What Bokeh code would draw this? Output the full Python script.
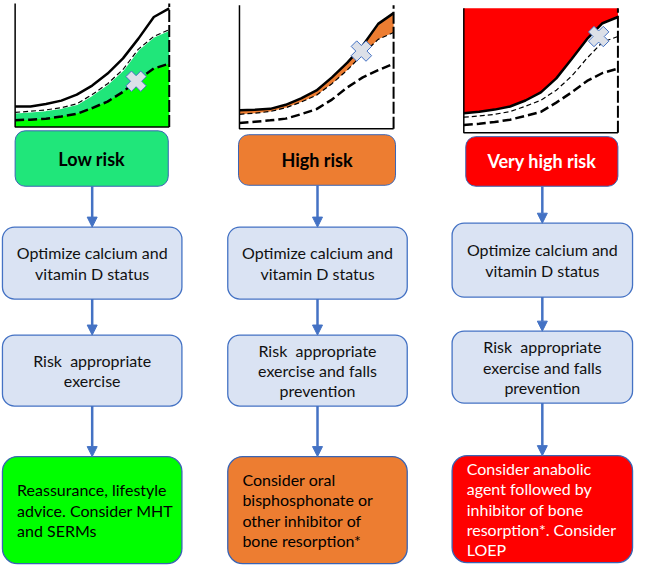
from bokeh.plotting import figure
from bokeh.models import Range1d, Arrow, NormalHead
from bokeh.core.properties import value
from bokeh.embed import file_html
from bokeh.resources import INLINE

# ---------------- data ----------------
risk_labels = ["Low risk", "High risk", "Very high risk"]
step1_text = ["Optimize calcium and\nvitamin D status"] * 3
step2_text = ["Risk\u00a0 appropriate\nexercise",
              "Risk\u00a0 appropriate\nexercise and falls\nprevention",
              "Risk\u00a0 appropriate\nexercise and falls\nprevention"]
final_text = ["Reassurance, lifestyle\nadvice. Consider MHT\nand SERMs",
              "Consider oral\nbisphosphonate or\nother inhibitor of\nbone resorption*",
              "Consider anabolic\nagent followed by\ninhibitor of bone\nresorption*. Consider\nLOEP"]

# mini chart curves (percent of panel width / height)
curve_x = [0, 10, 20, 30, 40, 50, 60, 70, 80, 90, 100]
solid_y = [
    [16.5, 16.6, 18.5, 21.3, 26.2, 33.5, 43.2, 55.5, 71.5, 89.0, 96.0],
    [15.0, 15.4, 16.2, 19.5, 24.7, 31.1, 41.7, 53.6, 67.5, 85.0, 93.7],
    [15.6, 16.9, 18.6, 21.1, 25.9, 32.5, 43.7, 59.3, 75.4, 88.0, 93.0],
]
middle_y = [
    [11.8, 12.7, 13.8, 15.6, 18.7, 26.2, 35.0, 46.5, 63.0, 73.3, 78.7],
    [11.8, 12.7, 14.1, 17.1, 21.7, 27.3, 36.6, 47.7, 60.5, 72.5, 78.0],
    [12.5, 13.5, 14.8, 17.0, 21.3, 26.1, 34.2, 45.5, 60.0, 72.8, 77.3],
]
lower_y = [
    [5.5, 5.9, 6.6, 8.4, 10.6, 15.3, 20.5, 28.4, 38.4, 47.3, 51.2],
    [4.7, 5.8, 6.9, 8.3, 11.9, 16.0, 23.7, 33.6, 41.7, 47.5, 52.8],
    [6.3, 7.2, 8.6, 10.5, 13.6, 16.8, 24.2, 32.5, 41.6, 48.0, 51.6],
]
patient_x = [78.5, 79.1, 87.5]
patient_y = [37.0, 63.0, 77.3]

# ---------------- styles / layout ----------------
FONT = value("Lato")
BLUE = "#4472C4"
BORDER = "#3A64B4"
LIGHT = "#DAE3F3"
GREEN_MID = "#20E67A"
GREEN = "#00FF00"
ORANGE = "#ED7D31"
RED = "#FF0000"

panels = [(15, 173, 130, 3), (245, 403, 132, 5), (475, 633, 136, 8)]
label_boxes = [(15, 172, 134, 191), (244, 405, 138, 190), (477, 633, 140, 191)]
label_fill = [GREEN_MID, ORANGE, RED]
label_color = ["black", "black", "white"]
col_x = [(2, 186), (233, 417), (463, 648)]
opt_y = [(233, 307), (233, 307), (229, 305)]
risk_y = [(344, 417), (344, 417), (340, 414)]
final_y = [(469, 579), (469, 579), (468, 578)]
final_fill = [GREEN, ORANGE, RED]
final_color = ["black", "black", "white"]

p = figure(width=634, height=566, output_backend="svg", toolbar_location=None,
           x_range=Range1d(0, 650), y_range=Range1d(582, 0),
           min_border=0, outline_line_color=None)
p.axis.visible = False
p.grid.visible = False
p.background_fill_color = "white"

for i in range(3):
    x0, x1, yb, yt = panels[i]
    sub = p.subplot(x_source=Range1d(0, 100), y_source=Range1d(0, 100),
                    x_target=Range1d(x0, x1), y_target=Range1d(yb, yt))
    if i == 0:
        sub.varea(x=curve_x, y1=[0] * len(curve_x), y2=middle_y[i], fill_color=GREEN_MID)
        sub.varea(x=curve_x, y1=[0] * len(curve_x), y2=lower_y[i], fill_color=GREEN)
        sub.line(x=curve_x, y=middle_y[i], line_color="white", line_width=2.5)
    elif i == 1:
        sub.varea(x=curve_x, y1=middle_y[i], y2=solid_y[i], fill_color=ORANGE)
    else:
        sub.varea(x=curve_x, y1=solid_y[i], y2=[100] * len(curve_x), fill_color=RED)
    sub.line(x=curve_x, y=solid_y[i], line_color="black", line_width=2.5)
    sub.line(x=curve_x, y=middle_y[i], line_color="black", line_width=1.2, line_dash="5 3")
    sub.line(x=curve_x, y=lower_y[i], line_color="black", line_width=2.5, line_dash="9 4")
    # frame
    sub.line(x=[0, 0, 100], y=[100, 0, 0], line_color="black", line_width=1.5)
    sub.line(x=[100, 100], y=[0, 100], line_color="black", line_width=2, line_dash="12 3")
    sub.scatter(x=[patient_x[i]], y=[patient_y[i]], marker="plus", size=21, angle=45,
                angle_units="deg", fill_color="#DCE0E8", line_color=BLUE, line_width=1)

    # risk label box
    l, r, t, b = label_boxes[i]
    p.quad(left=l, right=r, top=t, bottom=b, fill_color=label_fill[i], line_color=BORDER,
           line_width=1, border_radius=10)
    p.text(x=[(l + r) / 2], y=[(t + b) / 2], text=[risk_labels[i]], text_font=FONT,
           text_font_size="18px", text_font_style="bold", text_color=label_color[i],
           text_align="center", text_baseline="middle")

    cl, cr = col_x[i]
    cx = (cl + cr) / 2
    # step boxes
    for (yt_, yb_), txt in ((opt_y[i], step1_text[i]), (risk_y[i], step2_text[i])):
        p.quad(left=cl, right=cr, top=yt_, bottom=yb_, fill_color=LIGHT, line_color=BLUE,
               line_width=1.3, border_radius=12)
        p.text(x=[cx], y=[(yt_ + yb_) / 2], text=[txt], text_font=FONT, text_font_size="16px",
               text_color="#111111", text_align="center", text_baseline="middle",
               text_line_height=1.07)
    # final box
    ft, fb = final_y[i]
    p.quad(left=cl, right=cr, top=ft, bottom=fb, fill_color=final_fill[i], line_color=BORDER,
           line_width=1.3, border_radius=15)
    p.text(x=[cl + 15], y=[(ft + fb) / 2], text=[final_text[i]], text_font=FONT,
           text_font_size="16px", text_color=final_color[i], text_align="left",
           text_baseline="middle", text_line_height=1.07)

    # arrows
    segs = [(label_boxes[i][3], opt_y[i][0]), (opt_y[i][1], risk_y[i][0]), (risk_y[i][1], final_y[i][0])]
    for ys, ye in segs:
        p.add_layout(Arrow(x_start=cx, y_start=ys, x_end=cx, y_end=ye, line_color=BLUE,
                           line_width=2.5,
                           end=NormalHead(size=10, fill_color=BLUE, line_color=BLUE)))

open("out.html", "w").write(file_html(p, INLINE))
